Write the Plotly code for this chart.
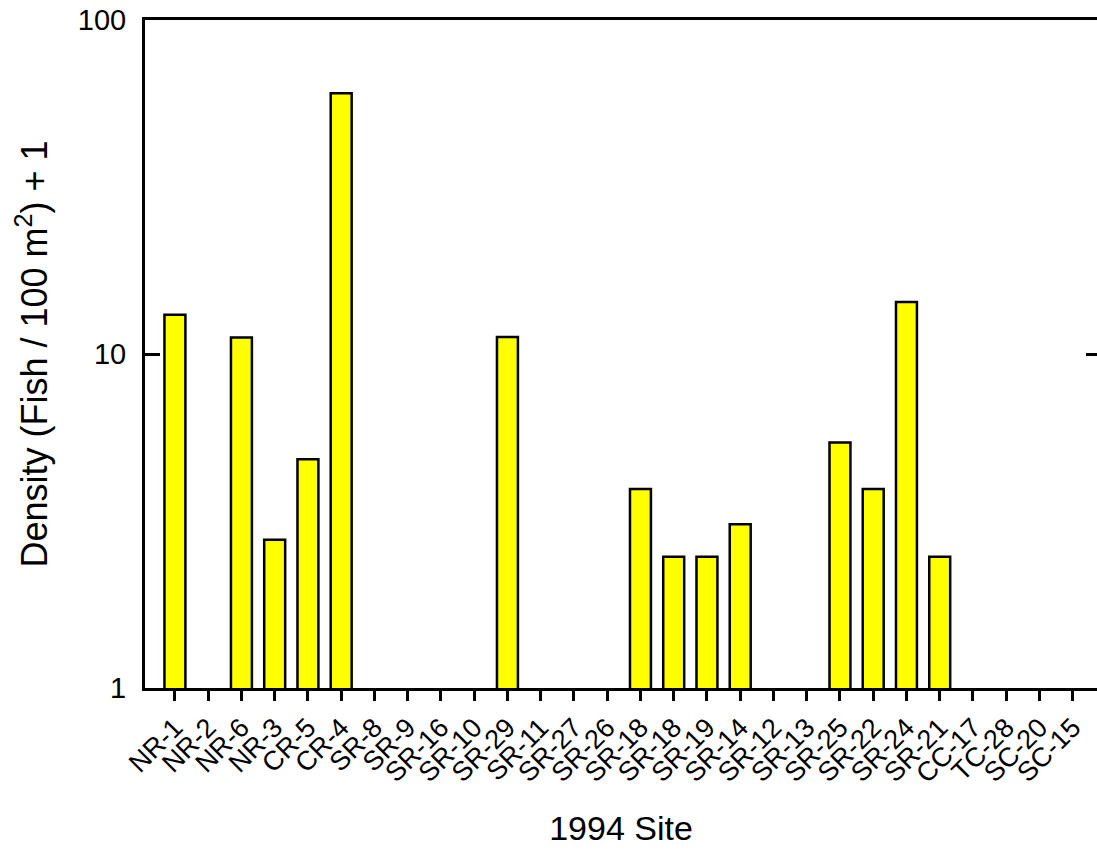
import plotly.graph_objects as go

# 1994 sampling sites, in survey order (SR-18 was sampled twice)
sites = ["NR-1", "NR-2", "NR-6", "NR-3", "CR-5", "CR-4", "SR-8", "SR-9", "SR-16",
         "SR-10", "SR-29", "SR-11", "SR-27", "SR-26", "SR-18", "SR-18", "SR-19",
         "SR-14", "SR-12", "SR-13", "SR-25", "SR-22", "SR-24", "SR-21", "CC-17",
         "TC-28", "SC-20", "SC-15"]

# Density (fish per 100 m^2) + 1
density_plus1 = [13.1, 1.0, 11.2, 2.78, 4.84, 60.4, 1.0, 1.0, 1.0,
                 1.0, 11.24, 1.0, 1.0, 1.0, 3.94, 2.47, 2.47,
                 3.09, 1.0, 1.0, 5.43, 3.94, 14.3, 2.47, 1.0,
                 1.0, 1.0, 1.0]

y_ticks = [1, 10, 100]
y_tick_text = ["1", "10", "100"]

positions = list(range(len(sites)))
FONT = "Liberation Sans, Arial, sans-serif"

# no outline on empty (zero-density) bars so they leave no stub on the axis
outline_widths = [2.5 if v > 1 else 0 for v in density_plus1]

fig = go.Figure()
fig.add_trace(go.Bar(
    x=positions,
    y=density_plus1,
    width=0.63,
    marker=dict(color="#FFFF00", line=dict(color="black", width=outline_widths)),
    hoverinfo="x+y",
))
# companion axis on the right side carrying the inward tick
fig.add_trace(go.Scatter(x=[], y=[], yaxis="y2", showlegend=False, hoverinfo="skip"))

fig.update_layout(
    width=1097,
    height=852,
    margin=dict(l=145, r=0, t=20, b=164),
    paper_bgcolor="white",
    plot_bgcolor="white",
    showlegend=False,
    font=dict(family=FONT, color="black"),
    xaxis=dict(
        range=[-0.9, 27.73],
        tickmode="array",
        tickvals=positions,
        ticktext=sites,
        tickangle=-45,
        tickfont=dict(size=27),
        ticks="outside",
        ticklen=10,
        tickwidth=3,
        tickcolor="black",
        showline=True,
        linecolor="black",
        linewidth=3,
        mirror=True,
        showgrid=False,
        zeroline=False,
        title=dict(text="1994 Site", font=dict(size=34), standoff=29),
    ),
    yaxis=dict(
        type="log",
        range=[0, 2],
        tickmode="array",
        tickvals=y_ticks,
        ticktext=y_tick_text,
        tickfont=dict(size=29),
        ticks="inside",
        ticklen=15,
        tickwidth=3,
        tickcolor="black",
        ticklabelstandoff=10,
        showline=True,
        linecolor="black",
        linewidth=3,
        showgrid=False,
        zeroline=False,
        title=dict(text="Density (Fish / 100 m<sup>2</sup>) + 1",
                   font=dict(size=36), standoff=20),
    ),
    yaxis2=dict(
        type="log",
        range=[0, 2],
        overlaying="y",
        side="right",
        tickmode="array",
        tickvals=[10],
        showticklabels=False,
        ticks="inside",
        ticklen=11,
        tickwidth=3,
        tickcolor="black",
        showline=False,
        showgrid=False,
        zeroline=False,
    ),
)

fig.write_html("out.html")
